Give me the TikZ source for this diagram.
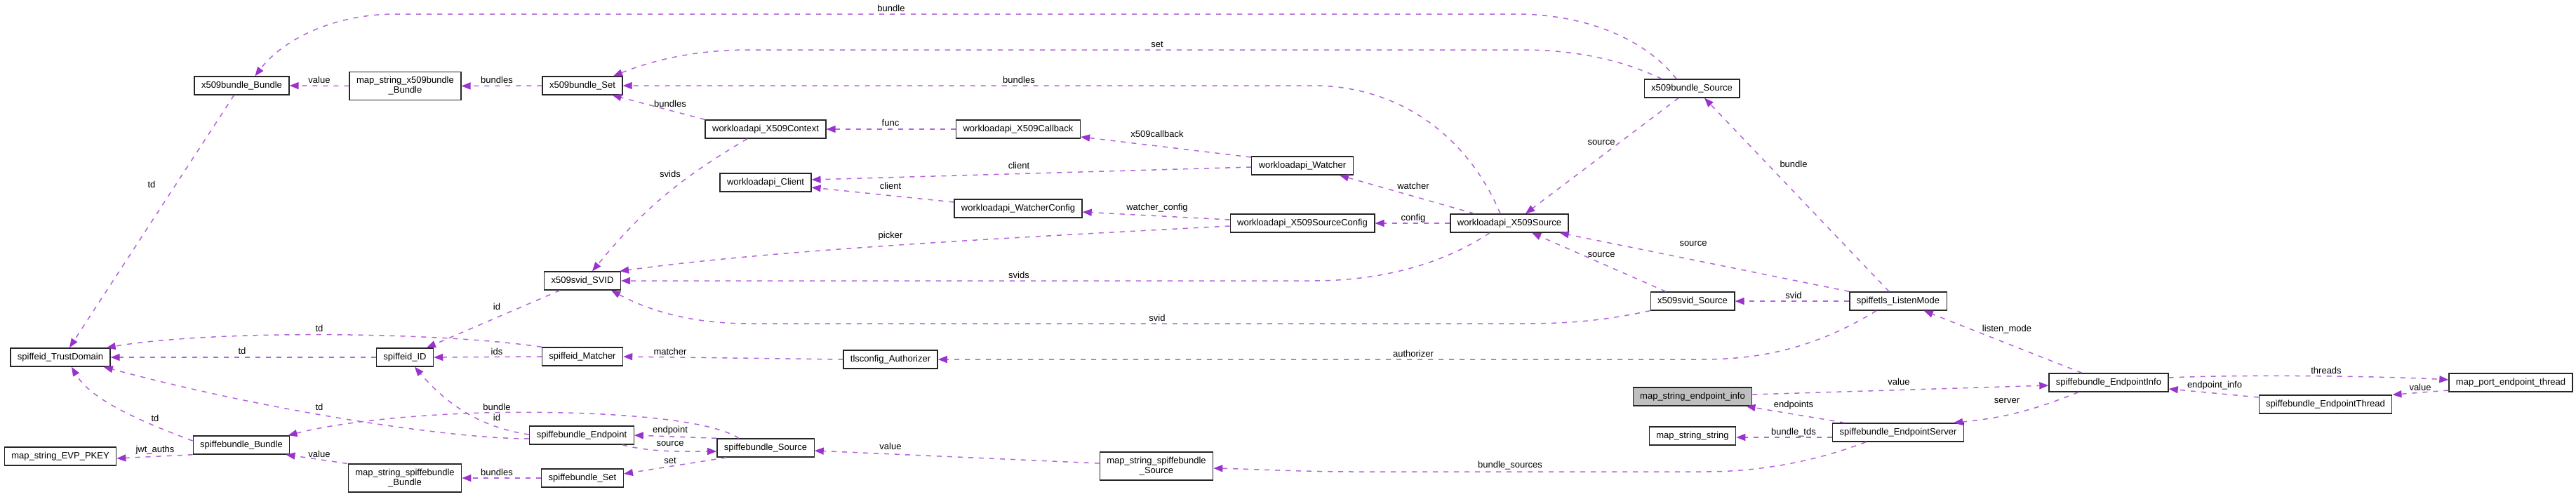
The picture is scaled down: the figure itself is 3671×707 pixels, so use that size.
\documentclass[tikz,border=0pt]{standalone}
\usepackage{fontspec}
\setmainfont{Liberation Sans}
\usetikzlibrary{arrows.meta}
\definecolor{usage}{HTML}{9A32CD}
\definecolor{focus}{HTML}{BFBFBF}
\begin{document}
\begin{tikzpicture}
    [
    x=1pt,y=-1pt,
    cls/.style={rectangle,draw=black!85,line width=1.3pt,fill=white,align=center,inner xsep=10pt,inner ysep=7pt,minimum height=26pt,font=\fontsize{13}{14}\selectfont},
    rel/.style={draw=usage!75,line width=1.5pt,dash pattern=on 7pt off 8pt,-{Triangle[length=13pt,width=10pt,color=usage,fill=usage]}},
    lbl/.style={inner sep=0pt,font=\fontsize{13}{14}\selectfont}
    ]
    \useasboundingbox (0,0) rectangle (3671,707);
    \node (0) at (344.5,122) [cls] {x509bundle\_Bundle};
    \node (1) at (577.5,122.5) [cls] {map\_string\_x509bundle\\\_Bundle};
    \node (2) at (830,122) [cls] {x509bundle\_Set};
    \node (3) at (1091,184) [cls] {workloadapi\_X509Context};
    \node (4) at (1451,184) [cls] {workloadapi\_X509Callback};
    \node (5) at (1091,260) [cls] {workloadapi\_Client};
    \node (6) at (1451,297) [cls] {workloadapi\_WatcherConfig};
    \node (7) at (1856,236) [cls] {workloadapi\_Watcher};
    \node (8) at (1856,318) [cls] {workloadapi\_X509SourceConfig};
    \node (9) at (2151,318) [cls] {workloadapi\_X509Source};
    \node (10) at (2411,126) [cls] {x509bundle\_Source};
    \node (11) at (830,400) [cls] {x509svid\_SVID};
    \node (12) at (2412,429) [cls] {x509svid\_Source};
    \node (13) at (2705,429) [cls] {spiffetls\_ListenMode};
    \node (14) at (1269,512) [cls] {tlsconfig\_Authorizer};
    \node (15) at (830,508) [cls] {spiffeid\_Matcher};
    \node (16) at (577,509) [cls] {spiffeid\_ID};
    \node (17) at (86,509) [cls] {spiffeid\_TrustDomain};
    \node (18) at (344,634) [cls] {spiffebundle\_Bundle};
    \node (19) at (86,650) [cls] {map\_string\_EVP\_PKEY};
    \node (20) at (829,620) [cls] {spiffebundle\_Endpoint};
    \node (21) at (1091,638) [cls] {spiffebundle\_Source};
    \node (22) at (577,681) [cls] {map\_string\_spiffebundle\\\_Bundle};
    \node (23) at (830,681) [cls] {spiffebundle\_Set};
    \node (24) at (1648,664) [cls] {map\_string\_spiffebundle\\\_Source};
    \node (25) at (2412,565) [cls,fill=focus] {map\_string\_endpoint\_info};
    \node (26) at (2412,621) [cls] {map\_string\_string};
    \node (27) at (2705,616) [cls] {spiffebundle\_EndpointServer};
    \node (28) at (3005,545) [cls] {spiffebundle\_EndpointInfo};
    \node (29) at (3578,545) [cls] {map\_port\_endpoint\_thread};
    \node (30) at (3314,576) [cls] {spiffebundle\_EndpointThread};
    % x509 bundles
    \draw [rel] ([xshift=-22pt]10.north) .. controls (2340,50) and (2250,20) .. (2160,20) -- (565,20) .. controls (470,20) and (400,60) .. ([xshift=19pt]0.north) node [lbl] (t1) at (1270,12) {bundle};
    \draw [rel] (1.west) to (0.east) node [lbl] (t2) at (455,114) {value};
    \draw [rel] (2.west) to (1.east) node [lbl] (t3) at (708,114) {bundles};
    \draw [rel] ([xshift=-43pt]10.north) .. controls (2300,80) and (2230,71) .. (2168,71) -- (1068,71) .. controls (980,71) and (920,90) .. ([xshift=44pt]2.north) node [lbl] (t4) at (1649,63) {set};
    \draw [rel] ([xshift=-13pt]9.north) .. controls (2090,190) and (1990,122) .. (1871,122) -- (2.east) node [lbl] (t5) at (1452,114) {bundles};
    \draw [rel] (3.north west) to ([xshift=-15pt]2.south east) node [lbl] (t6) at (955,148) {bundles};
    % workload api
    \draw [rel] (4.west) to (3.east) node [lbl] (t7) at (1269,175) {func};
    \draw [rel] ([yshift=12pt]7.west) to ([yshift=-11pt]4.east) node [lbl] (t8) at (1649,191) {x509callback};
    \draw [rel] ([yshift=-2pt]7.west) to ([yshift=4pt]5.east) node [lbl] (t9) at (1452,236) {client};
    \draw [rel] ([yshift=9pt]6.west) to ([yshift=-7pt]5.east) node [lbl] (t10) at (1269,265) {client};
    \draw [rel] ([yshift=5pt]8.west) to ([yshift=-5pt]6.east) node [lbl] (t11) at (1649,296) {watcher\_config};
    \draw [rel] ([yshift=-4pt]8.west) .. controls (1450,338) and (1100,356) .. ([xshift=-2pt]11.north east) node [lbl] (t12) at (1269,336) {picker};
    \draw [rel] ([xshift=-26pt]3.south) to [bend right=10] ([xshift=14pt]11.north) node [lbl] (t13) at (955,248) {svids};
    \draw [rel] ([xshift=-50pt]9.north) to ([xshift=53pt]7.south) node [lbl] (t14) at (2014,265) {watcher};
    \draw [rel] (9.west) to (8.east) node [lbl] (t15) at (2014,311) {config};
    \draw [rel] ([xshift=-19pt]10.south) to ([xshift=23pt]9.north) node [lbl] (t16) at (2282,203) {source};
    \draw [rel] ([xshift=-28pt]9.south) .. controls (2050,380) and (1960,400) .. (1871,400) -- (11.east) node [lbl] (t17) at (1452,392) {svids};
    \draw [rel] ([xshift=-38pt]12.north) to ([xshift=32pt]9.south) node [lbl] (t18) at (2282,363) {source};
    \draw [rel] (13.north west) to ([xshift=-13pt]9.south east) node [lbl] (t19) at (2413,347) {source};
    \draw [rel] ([xshift=-13pt]13.north) to ([xshift=18pt]10.south) node [lbl] (t20) at (2556,234) {bundle};
    % svid and tls
    \draw [rel] (13.west) to (12.east) node [lbl] (t21) at (2556,421) {svid};
    \draw [rel] (12.south west) .. controls (2280,458) and (2230,461) .. (2168,461) -- (1068,461) .. controls (980,461) and (920,440) .. ([xshift=-14pt]11.south east) node [lbl] (t22) at (1649,453) {svid};
    \draw [rel] ([xshift=-31pt]13.south) .. controls (2580,500) and (2500,512) .. (2423,512) -- (14.east) node [lbl] (t23) at (2014,504) {authorizer};
    \draw [rel] (14.west) to (15.east) node [lbl] (t24) at (955,501) {matcher};
    \draw [rel] (15.west) to (16.east) node [lbl] (t25) at (708,501) {ids};
    \draw [rel] ([xshift=-32pt]11.south) to ([xshift=31pt]16.north) node [lbl] (t26) at (708,437) {id};
    \draw [rel] (15.north west) .. controls (620,472) and (300,470) .. ([xshift=-6pt]17.north east) node [lbl] (t27) at (455,468) {td};
    \draw [rel] (16.west) to (17.east) node [lbl] (t28) at (345,500) {td};
    \draw [rel] ([xshift=-11pt]0.south) to ([xshift=13pt]17.north) node [lbl] (t29) at (216,263) {td};
    % spiffe bundles
    \draw [rel] ([yshift=6pt]18.west) .. controls (200,600) and (130,570) .. ([xshift=16pt]17.south) node [lbl] (t30) at (221,596) {td};
    \draw [rel] ([yshift=-5pt]20.west) .. controls (650,625) and (400,590) .. ([xshift=-10pt]17.south east) node [lbl] (t31) at (455,580) {td};
    \draw [rel] (18.south west) to ([yshift=-3pt]19.east) node [lbl] (t32) at (221,641) {jwt\_auths};
    \draw [rel] ([yshift=1pt]20.west) .. controls (690,610) and (640,580) .. ([xshift=14pt]16.south) node [lbl] (t33) at (708,595) {id};
    \draw [rel] ([xshift=-38pt]21.north) .. controls (1000,590) and (800,585) .. (690,588) .. controls (560,592) and (470,605) .. ([xshift=-3pt]18.north east) node [lbl] (t34) at (708,580) {bundle};
    \draw [rel] ([xshift=-1pt]22.north west) to ([xshift=-6pt]18.south east) node [lbl] (t35) at (455,647) {value};
    \draw [rel] (23.west) to (22.east) node [lbl] (t36) at (708,673) {bundles};
    \draw [rel] (21.north west) to (20.east) node [lbl] (t37) at (955,613) {endpoint};
    \draw [rel] ([xshift=-17pt]20.south east) .. controls (930,645) and (980,643) .. ([yshift=-5pt]21.west) node [lbl] (t38) at (955,632) {source};
    \draw [rel] ([xshift=-56pt]21.south) to ([yshift=6pt]23.east) node [lbl] (t39) at (955,656) {set};
    \draw [rel] ([yshift=4pt]24.west) to ([yshift=-4pt]21.east) node [lbl] (t40) at (1269,636) {value};
    % endpoint server
    \draw [rel] ([xshift=-46pt]27.south) .. controls (2580,660) and (2500,672) .. (2429,672) -- (1932,672) .. controls (1850,672) and (1780,668) .. ([yshift=-3pt]24.east) node [lbl] (t41) at (2152,663) {bundle\_sources};
    \draw [rel] ([yshift=-7pt]27.west) to ([yshift=-2pt]26.east) node [lbl] (t42) at (2556,616) {bundle\_tds};
    \draw [rel] ([xshift=18pt]27.north west) to ([xshift=-9pt]25.south east) node [lbl] (t43) at (2556,577) {endpoints};
    \draw [rel] ([yshift=3pt]25.east) to ([yshift=-4pt]28.west) node [lbl] (t44) at (2706,544) {value};
    \draw [rel] ([xshift=-43pt]28.south) to [bend left=8] ([xshift=-15pt]27.north east) node [lbl] (t45) at (2860,571) {server};
    \draw [rel] ([xshift=-38pt]28.north) to ([xshift=-33pt]13.south east) node [lbl] (t46) at (2860,469) {listen\_mode};
    \draw [rel] ([yshift=7pt]28.east) .. controls (3200,533) and (3400,536) .. ([yshift=4pt]29.west) node [lbl] (t47) at (3315,528) {threads};
    \draw [rel] ([yshift=-11pt]29.west) to (30.north east) node [lbl] (t48) at (3449,552) {value};
    \draw [rel] ([yshift=10pt]30.west) to ([yshift=-9pt]28.east) node [lbl] (t49) at (3156,549) {endpoint\_info};
\end{tikzpicture}
\end{document}
